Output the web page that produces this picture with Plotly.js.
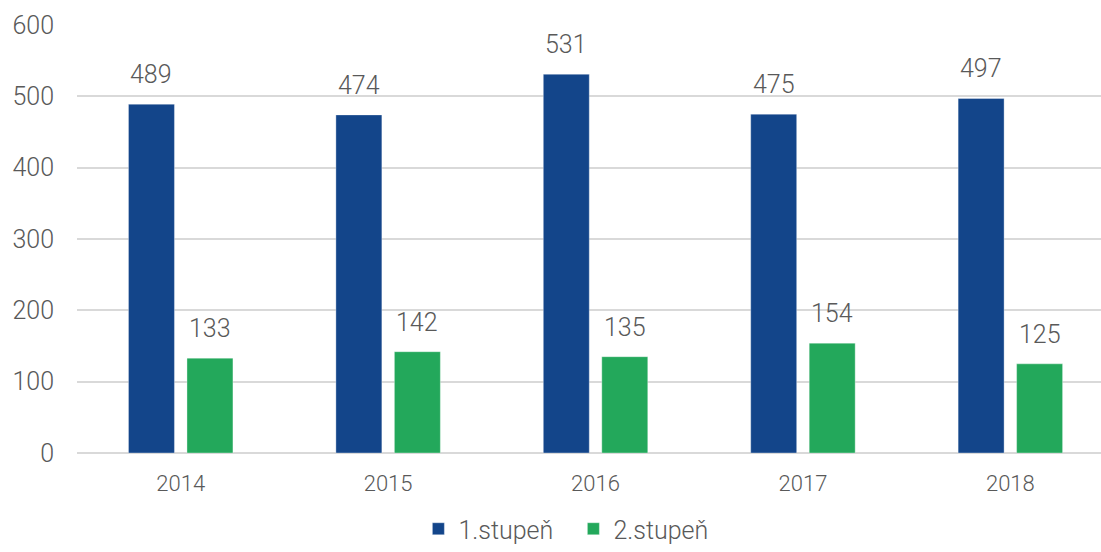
<!DOCTYPE html>
<html>
<head>
<meta charset="utf-8">
<script src="https://cdn.plot.ly/plotly-3.0.1.min.js"></script>
<style>
  html, body { margin: 0; padding: 0; background: #fff; }
  #chart { width: 1101px; height: 552px; }
</style>
</head>
<body>
<div id="chart"></div>
<script>
// values
const years = ['2014', '2015', '2016', '2017', '2018'];
const stupen1 = [489, 474, 531, 475, 497];
const stupen2 = [133, 142, 135, 154, 125];
const seriesNames = ['1.stupeň', '2.stupeň'];
const yTicks = [0, 100, 200, 300, 400, 500, 600];

const gray = '#595959';
const blue = '#13458a';
const green = '#23a85b';
const fontFamily = 'Roboto, "Open Sans", sans-serif';
const lightFont = (size) => ({ family: fontFamily, size: size, color: gray, weight: 300 });

const barTrace = (vals, name, color) => ({
    x: years,
    y: vals,
    name: name,
    type: 'bar',
    marker: { color: color, line: { color: 'rgba(255,255,255,0.35)', width: 1 } },
    hoverinfo: 'x+y+name'
});

// value labels sit above each bar, shifted to its slot in the group
const labelFor = (vals, shift) => vals.map((v, i) => ({
    xref: 'x',
    yref: 'y',
    x: i,
    y: v,
    text: String(v),
    showarrow: false,
    xshift: shift,
    yshift: 13,
    xanchor: 'center',
    yanchor: 'bottom',
    font: lightFont(25)
}));

const layout = {
    width: 1101,
    height: 552,
    margin: { l: 77, r: 0, t: 25, b: 99 },
    paper_bgcolor: '#fff',
    plot_bgcolor: '#fff',
    barmode: 'group',
    bargap: 0.436,
    bargroupgap: 0.214,
    font: lightFont(20),
    xaxis: {
        type: 'category',
        range: [-0.5, 4.437],
        showgrid: false,
        zeroline: false,
        showline: false,
        ticks: '',
        ticklabelstandoff: 15,
        tickfont: lightFont(22)
    },
    yaxis: {
        range: [0, 600],
        tickvals: yTicks,
        showgrid: true,
        gridcolor: '#d9d9d9',
        gridwidth: 2,
        zeroline: true,
        zerolinecolor: '#d9d9d9',
        zerolinewidth: 2,
        showline: false,
        ticks: '',
        ticklabelstandoff: 22,
        tickfont: lightFont(25)
    },
    showlegend: true,
    legend: {
        orientation: 'h',
        xref: 'container',
        yref: 'container',
        x: 0.38,
        xanchor: 'left',
        y: -0.012,
        yanchor: 'bottom',
        entrywidth: 110,
        entrywidthmode: 'pixels',
        font: lightFont(25),
        traceorder: 'normal'
    },
    annotations: labelFor(stupen1, -29.25).concat(labelFor(stupen2, 29.25))
};

Plotly.newPlot('chart', [
    barTrace(stupen1, seriesNames[0], blue),
    barTrace(stupen2, seriesNames[1], green)
], layout, { displayModeBar: false });
</script>
</body>
</html>
